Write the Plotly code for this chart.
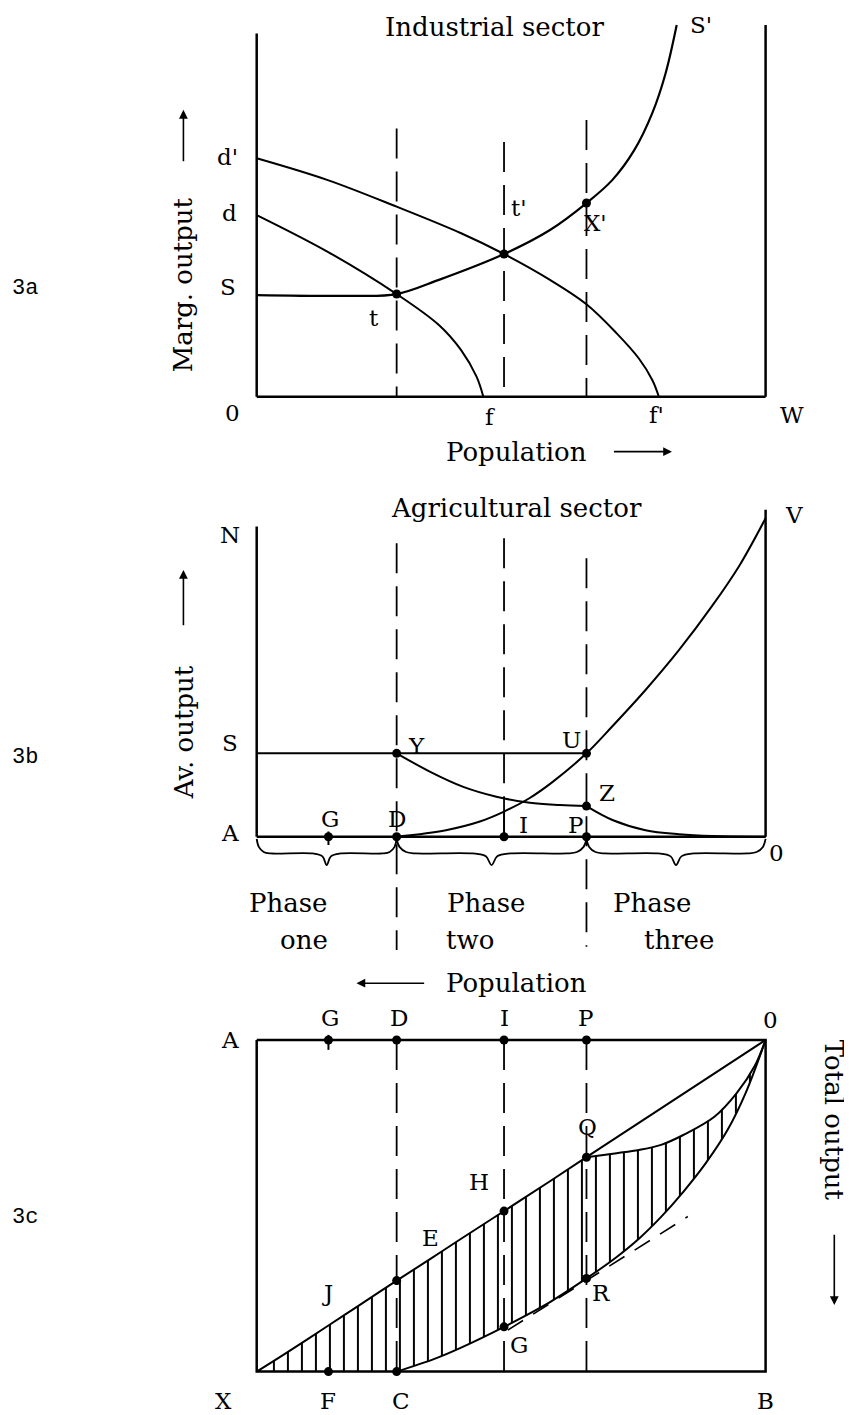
import plotly.graph_objects as go

# ---------------- data (population measured 0..100 from the left edge) ----------------
pop_G = 14.1
pop_D = 27.5
pop_I = 48.6
pop_P = 64.8

# 3a  Industrial sector (marginal output)
dprime_x = [0, 13.97, 27.5, 40.17, 48.6, 57.63, 64.8, 70.74, 75.1, 77.73, 79.03]
dprime_y = [65.5, 59.5, 52.2, 44.9, 39.2, 32.1, 25.4, 17.4, 10.5, 4.6, 0]
d_x = [0, 13.97, 27.5, 35.8, 40.17, 43.2, 44.53]
d_y = [49.9, 39.8, 28.2, 19.7, 12.8, 5.5, 0]
S_x = [0, 18.33, 27.5, 35.8, 48.6, 57.63, 64.8, 69.86, 74.22, 77.73, 80.34, 82.53]
S_y = [27.9, 27.7, 28.2, 32.1, 39.2, 45.8, 53.2, 59.5, 67.8, 77.9, 88.8, 102.1]
dots_a_x = [pop_D, pop_I, pop_P]
dots_a_y = [28.2, 39.2, 53.2]
dash_a_top = [73.7, 70.0, 76.0]
axis_a_top = [99.8, 102.1]          # left, right frame heights

# 3b  Agricultural sector (average output)
V_x = [27.5, 37.2, 43.7, 48.6, 53.5, 58.1, 64.8, 69.8, 76.4, 83.0, 89.6, 94.9, 100]
V_y = [0, 1.8, 4.1, 6.9, 10.5, 15.0, 22.9, 30.2, 40.3, 51.3, 63.6, 74.6, 87.5]
YZ_x = [27.5, 34.0, 40.6, 47.1, 53.7, 59.6, 64.8]
YZ_y = [22.9, 17.9, 13.7, 11.0, 9.3, 8.7, 8.4]
Z0_x = [64.8, 69.9, 76.4, 83.0, 89.6, 100]
Z0_y = [8.4, 4.6, 1.8, 0.7, 0.2, 0]
S_level_b = 22.9
dots_b_x = [pop_D, pop_P, pop_P, pop_G, pop_D, pop_I, pop_P]
dots_b_y = [22.9, 22.9, 8.4, 0, 0, 0, 0]
dash_b_lo = [-31.1, 6.9, -30.2]
dash_b_hi = [80.6, 82.0, 76.5]
axis_b_top = [85.2, 89.8]
phase_bounds = [0, pop_D, pop_P, 100]

# 3c  Total output (measured downward from line A-0)
upper_x = [0, 5.23, 14.02, 20.13, 27.5, 34.06, 40.17, 48.6, 57.63, 64.8]
upper_y = [91.1, 86.5, 78.5, 72.9, 66.1, 60.2, 54.6, 47.0, 38.8, 32.2]
QO_x = [64.8, 70.74, 75.1, 79.47, 83.83, 89.94, 94.32, 97.8, 100]
QO_y = [32.2, 31.1, 30.2, 28.8, 26.1, 21.1, 14.6, 7.3, 0]
lower_x = [27.5, 34.92, 40.17, 48.6, 57.63, 64.8, 70.74, 75.1, 79.47, 83.83, 88.21, 92.57, 96.07, 100]
lower_y = [91.1, 87.6, 84.5, 78.8, 72.0, 65.5, 59.6, 54.6, 48.6, 41.7, 33.9, 24.6, 14.6, 0]
tangent_x = [49.34, 84.71]
tangent_y = [79.7, 48.5]
box_c_depth = 91.1
dots_c_x = [pop_G, pop_D, pop_I, pop_P, pop_D, pop_I, pop_P, pop_P, pop_I, pop_G, pop_D]
dots_c_y = [0, 0, 0, 0, 66.1, 47.0, 32.2, 65.5, 78.8, 91.1, 91.1]
dash_c_hi = [91.1, 93.0, 93.0]

# ---------------- layout helpers ----------------
PAGE_OFF = 8                      # default body margin of the written html page
W, H = 852 - PAGE_OFF, 1415 - PAGE_OFF
X0, XPU, YPU = 256.7 - PAGE_OFF, 5.089, 3.64
XR = [-20, 116]
A_ZERO, B_ZERO, C_ZERO = 396.7 - PAGE_OFF, 836.7 - PAGE_OFF, 1040.0 - PAGE_OFF
A_RANGE, B_RANGE, C_RANGE = [-20, 106], [-34, 92], [-18, 101.5]

def xdom(r):
    return [(X0 + r[0] * XPU) / W, (X0 + r[1] * XPU) / W]

def ydom_up(zero, r):
    return [1 - (zero - r[0] * YPU) / H, 1 - (zero - r[1] * YPU) / H]

def ydom_down(zero, r):
    return [1 - (zero + r[1] * YPU) / H, 1 - (zero + r[0] * YPU) / H]

fig = go.Figure()
AX = {1: ("x", "y"), 2: ("x2", "y2"), 3: ("x3", "y3")}
DASH = "30px,13px"

def line(xs, ys, p, width=2.0, dash=None, shape="linear"):
    fig.add_trace(go.Scatter(x=xs, y=ys, mode="lines", xaxis=AX[p][0], yaxis=AX[p][1],
                             line=dict(color="black", width=width, dash=dash, shape=shape),
                             hoverinfo="skip", showlegend=False))

def dots(xs, ys, p, size=9):
    fig.add_trace(go.Scatter(x=xs, y=ys, mode="markers", xaxis=AX[p][0], yaxis=AX[p][1],
                             marker=dict(color="black", size=size), cliponaxis=False,
                             hoverinfo="skip", showlegend=False))

# ---------- 3a ----------
line([0, 0], [0, axis_a_top[0]], 1, 2.5)
line([100, 100], [0, axis_a_top[1]], 1, 2.5)
line([0, 100], [0, 0], 1, 2.5)
for xv, top in zip(dots_a_x, dash_a_top):
    line([xv, xv], [top, 0], 1, 1.8, DASH)
line(dprime_x, dprime_y, 1, 2.0, shape="spline")
line(d_x, d_y, 1, 2.0, shape="spline")
line(S_x, S_y, 1, 2.2, shape="spline")
dots(dots_a_x, dots_a_y, 1)

# ---------- 3b ----------
line([0, 0], [0, axis_b_top[0]], 2, 2.5)
line([100, 100], [0, axis_b_top[1]], 2, 2.5)
line([0, 100], [0, 0], 2, 2.5)
line([0, pop_P], [S_level_b, S_level_b], 2, 2.0)
for xv, lo, hi in zip([pop_D, pop_I, pop_P], dash_b_lo, dash_b_hi):
    line([xv, xv], [hi, lo], 2, 1.8, DASH)
line([pop_I, pop_I], [0, dash_b_lo[1]], 2, 2.0)
line(V_x, V_y, 2, 2.0, shape="spline")
line(YZ_x, YZ_y, 2, 2.0, shape="spline")
line(Z0_x, Z0_y, 2, 2.0, shape="spline")
line([pop_G, pop_G], [1.4, -2.3], 2, 2.0)
# braces under the phases
brace_t = [0, 0.015, 0.05, 0.1, 0.4, 0.47, 0.5, 0.53, 0.6, 0.9, 0.95, 0.985, 1]
brace_d = [-0.6, -2.8, -4.2, -4.6, -4.6, -5.4, -7.8, -5.4, -4.6, -4.6, -4.2, -2.8, -0.6]
for a, b in zip(phase_bounds[:-1], phase_bounds[1:]):
    line([a + t * (b - a) for t in brace_t], brace_d, 2, 1.8, shape="spline")
dots(dots_b_x, dots_b_y, 2)

# ---------- 3c ----------
poly_x = upper_x + QO_x[1:] + lower_x[::-1][1:] + [0]
poly_y = upper_y + QO_y[1:] + lower_y[::-1][1:] + [box_c_depth]
fig.add_trace(go.Scatter(x=poly_x, y=poly_y, mode="none", fill="toself", xaxis="x3", yaxis="y3",
                         fillcolor="rgba(0,0,0,0)",
                         fillpattern=dict(shape="|", size=14, solidity=0.14, fgcolor="black",
                                          fgopacity=1, fillmode="overlay"),
                         hoverinfo="skip", showlegend=False))
line([0, 100, 100, 0, 0], [0, 0, box_c_depth, box_c_depth, 0], 3, 2.5)
for xv, hi in zip([pop_D, pop_I, pop_P], dash_c_hi):
    line([xv, xv], [0, hi], 3, 1.8, DASH)
line([100, pop_P], [0, QO_y[0]], 3, 2.0)
line(upper_x, upper_y, 3, 2.0, shape="spline")
line(QO_x, QO_y, 3, 2.0, shape="spline")
line(lower_x, lower_y, 3, 2.0, shape="spline")
line(tangent_x, tangent_y, 3, 1.6, "18px,12px")
line([pop_G, pop_G], [-1.4, 2.7], 3, 2.0)
dots(dots_c_x, dots_c_y, 3)

# ---------------- text ----------------
ann = []
LET, WORD = 23, 26
FONT = "DejaVu Serif"

def txt(s, x, y, p, size=LET, angle=0):
    ann.append(dict(text=s, x=x, y=y, xref=AX[p][0], yref=AX[p][1], showarrow=False,
                    xanchor="center", yanchor="middle", textangle=angle,
                    font=dict(family=FONT, size=size, color="black")))

def arrow(x0, y0, x1, y1, p):
    ann.append(dict(text="", x=x1, y=y1, ax=x0, ay=y0, xref=AX[p][0], yref=AX[p][1],
                    axref=AX[p][0], ayref=AX[p][1], showarrow=True, arrowhead=2,
                    arrowsize=1.1, arrowwidth=1.6, arrowcolor="black", standoff=0, startstandoff=0))

# 3a
txt("Industrial sector", 46.7, 101.7, 1, WORD)
txt("S'", 87.3, 102.2, 1)
txt("d'", -5.7, 65.9, 1)
txt("d", -5.4, 50.4, 1)
txt("S", -5.7, 30.2, 1)
txt("t", 23.1, 21.5, 1)
txt("t'", 51.5, 51.8, 1)
txt("X'", 66.6, 47.6, 1)
txt("0", -4.8, -4.6, 1)
txt("f", 45.8, -5.5, 1)
txt("f'", 78.6, -5.0, 1)
txt("W", 105.2, -5.0, 1)
txt("Population", 51.1, -15.1, 1, WORD)
arrow(69.9, -15.1, 81.6, -15.1, 1)
txt("Marg. output", -14.4, 30.7, 1, WORD, -90)
arrow(-14.4, 64.3, -14.4, 78.8, 1)

# 3b
txt("Agricultural sector", 51.1, 90.2, 2, WORD)
txt("N", -5.2, 82.9, 2)
txt("V", 105.5, 88.3, 2)
txt("S", -5.2, 25.7, 2)
txt("Y", 31.4, 25.0, 2)
txt("U", 61.9, 26.5, 2)
txt("Z", 68.9, 12.0, 2)
txt("A", -5.2, 0.9, 2)
txt("G", 14.4, 5.0, 2)
txt("D", 27.6, 5.0, 2)
txt("I", 52.5, 3.2, 2)
txt("P", 62.6, 3.2, 2)
txt("0", 102.2, -4.6, 2)
for s, xv in zip(["Phase", "Phase", "Phase"], [6.1, 45.0, 77.7]):
    txt(s, xv, -18.3, 2, WORD)
for s, xv in zip(["one", "two", "three"], [9.2, 41.9, 83.0]):
    txt(s, xv, -28.4, 2, WORD)
txt("Av. output", -14.4, 28.8, 2, WORD, -90)
arrow(-14.4, 57.7, -14.4, 73.3, 2)

# 3c
txt("Population", 51.0, -15.6, 3, WORD)
arrow(33.2, -15.6, 19.6, -15.6, 3)
txt("A", -5.2, 0, 3)
txt("G", 14.4, -6.0, 3)
txt("D", 27.9, -6.0, 3)
txt("I", 48.6, -6.0, 3)
txt("P", 64.6, -6.0, 3)
txt("0", 100.9, -5.5, 3)
txt("Q", 65.1, 23.8, 3)
txt("H", 43.7, 38.9, 3)
txt("E", 34.1, 54.5, 3)
txt("J", 14.0, 69.6, 3)
txt("R", 67.7, 69.6, 3)
txt("G", 51.5, 83.8, 3)
txt("X", -6.6, 99.3, 3)
txt("F", 14.0, 99.3, 3)
txt("C", 28.4, 99.3, 3)
txt("B", 100.0, 99.3, 3)
txt("Total output", 113.5, 22.0, 3, WORD, 90)
arrow(113.5, 53.1, 113.5, 72.8, 3)

# panel labels (page pixel positions converted to figure paper fractions)
for s, px, py in [("3a", 25, 288), ("3b", 25, 757), ("3c", 25, 1217)]:
    ann.append(dict(text=s, x=(px - PAGE_OFF) / W, y=1 - (py - PAGE_OFF) / H,
                    xref="paper", yref="paper", showarrow=False,
                    xanchor="center", yanchor="middle",
                    font=dict(family="Liberation Mono", size=22, color="black")))

hidden = dict(visible=False, showgrid=False, zeroline=False)
fig.update_layout(
    width=W, height=H, margin=dict(l=0, r=0, t=0, b=0),
    paper_bgcolor="white", plot_bgcolor="rgba(0,0,0,0)", showlegend=False,
    annotations=ann,
    xaxis=dict(domain=xdom(XR), range=XR, anchor="y", **hidden),
    yaxis=dict(domain=ydom_up(A_ZERO, A_RANGE), range=A_RANGE, anchor="x", **hidden),
    xaxis2=dict(domain=xdom(XR), range=XR, anchor="y2", **hidden),
    yaxis2=dict(domain=ydom_up(B_ZERO, B_RANGE), range=B_RANGE, anchor="x2", **hidden),
    xaxis3=dict(domain=xdom(XR), range=XR, anchor="y3", **hidden),
    yaxis3=dict(domain=ydom_down(C_ZERO, C_RANGE), range=[C_RANGE[1], C_RANGE[0]], anchor="x3", **hidden),
)

fig.write_html("out.html")
